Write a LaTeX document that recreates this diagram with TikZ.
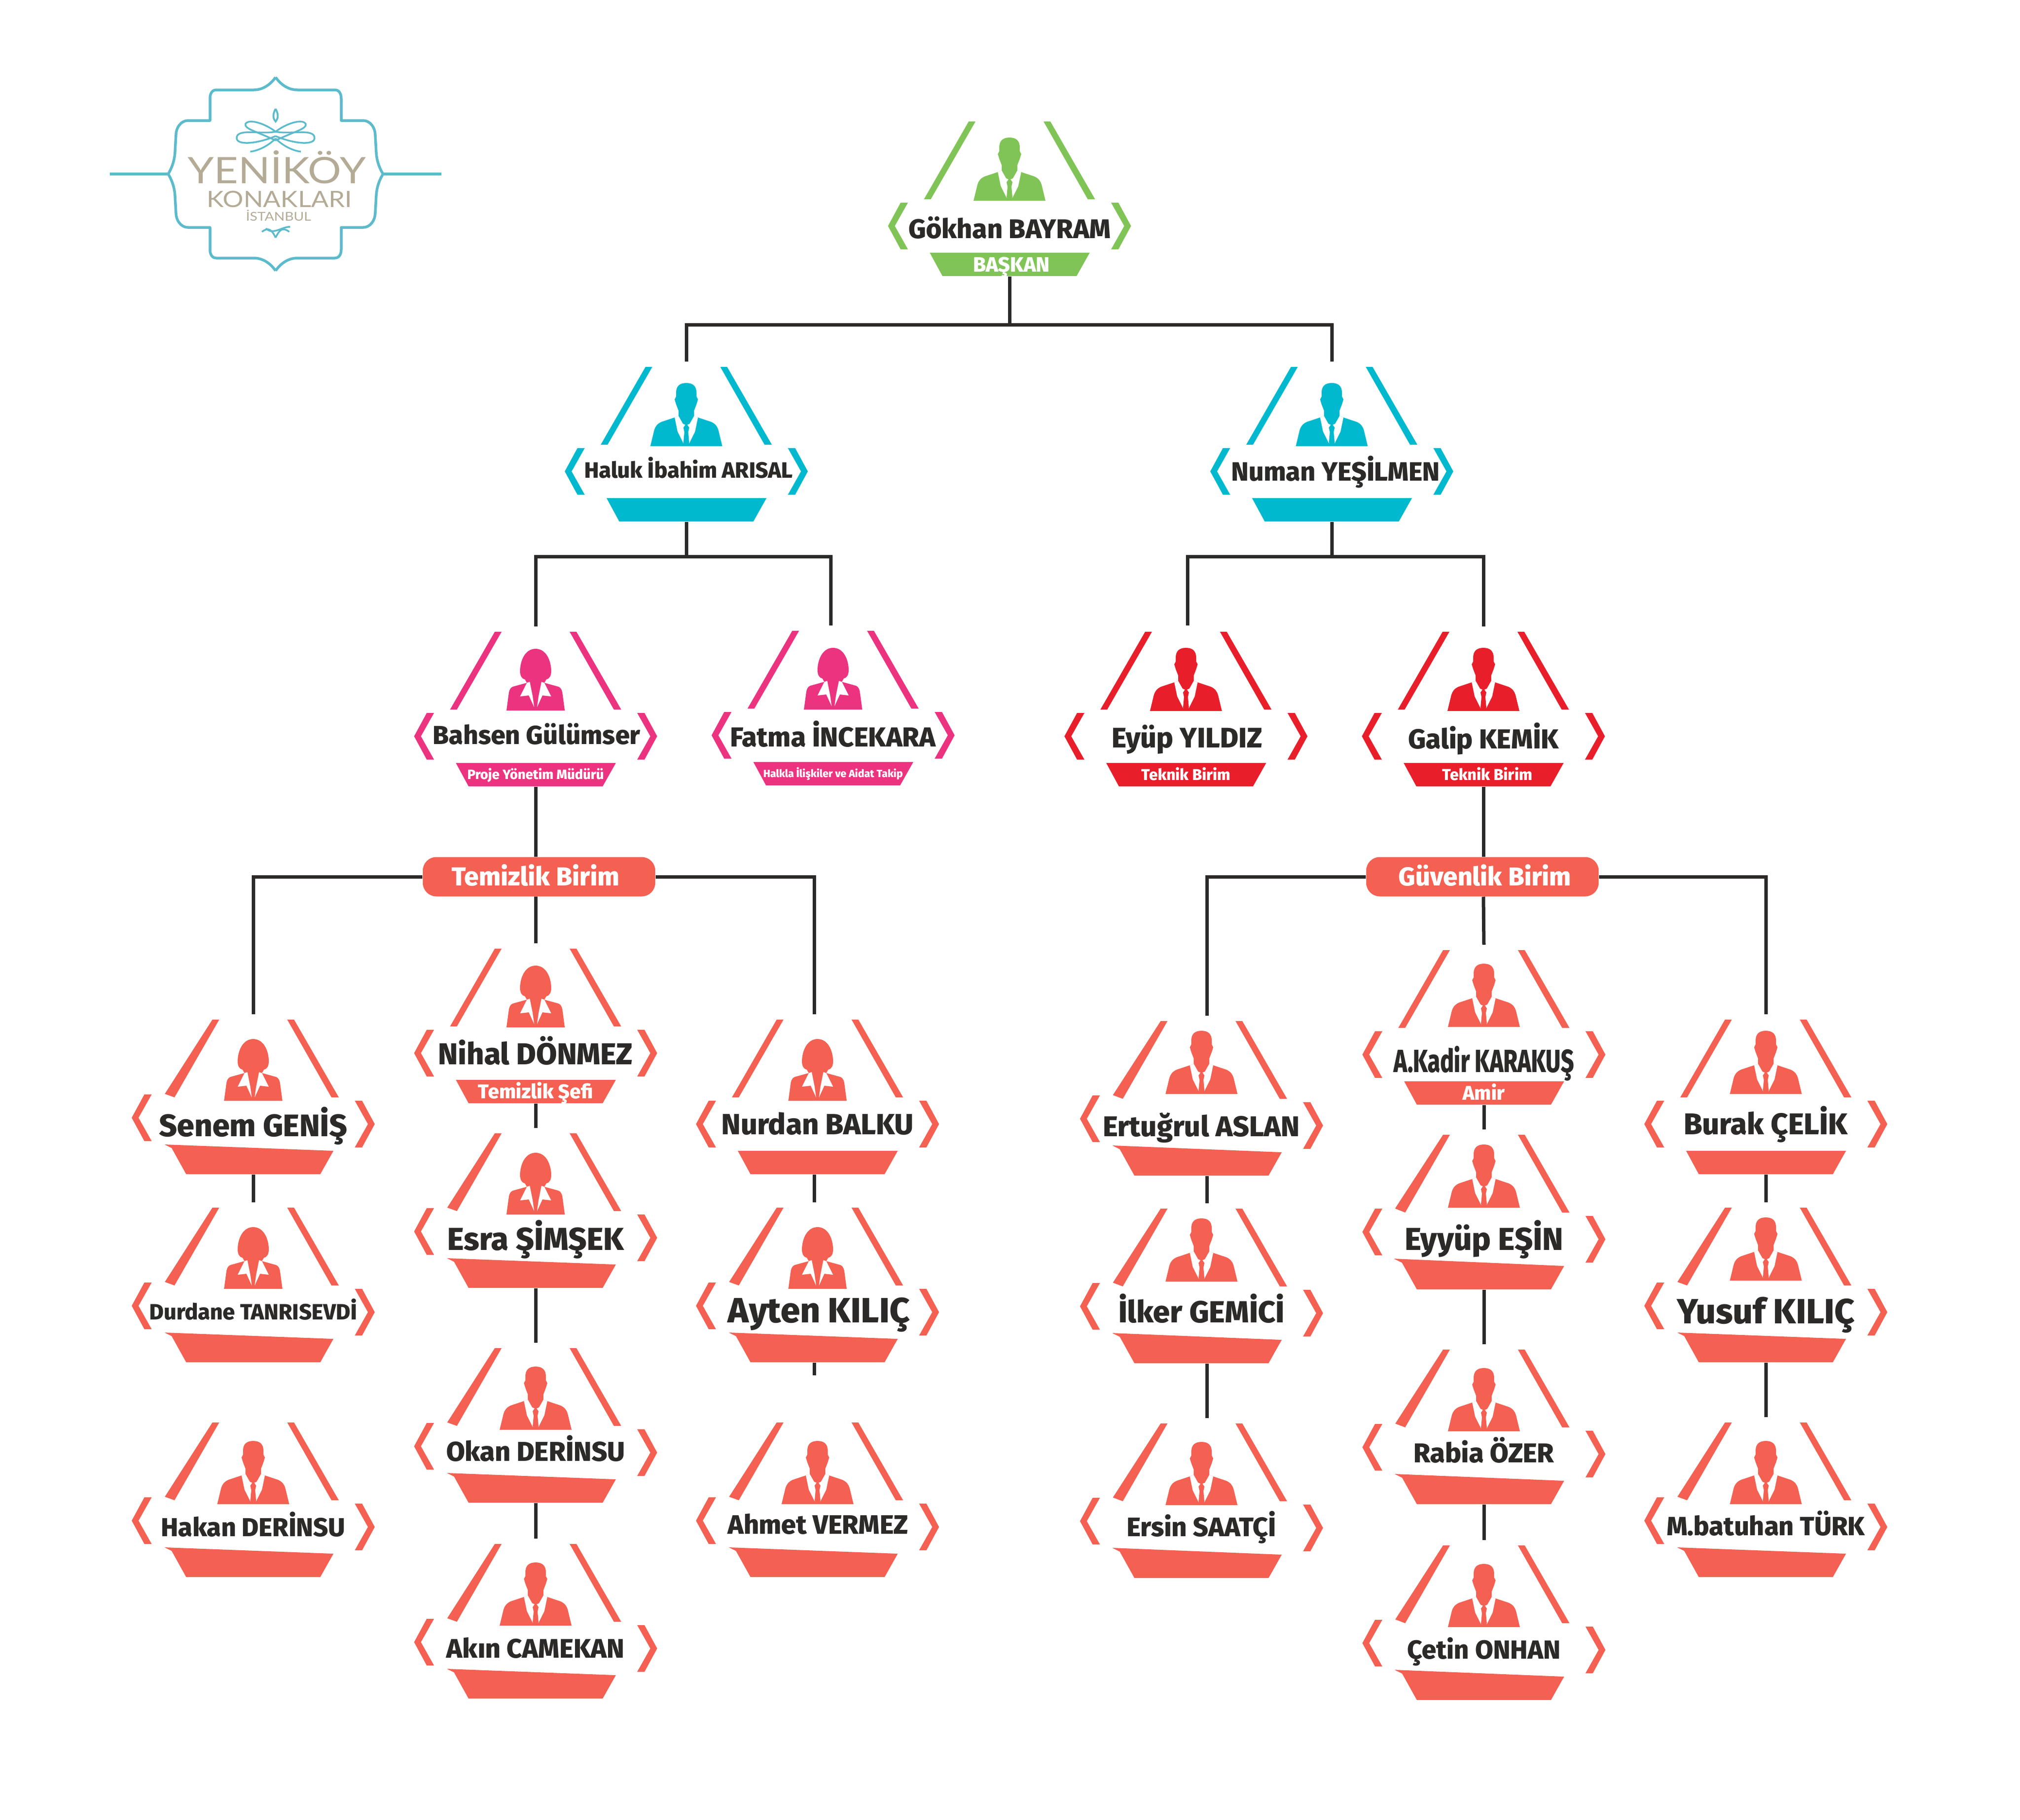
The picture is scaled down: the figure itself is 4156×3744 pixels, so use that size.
\documentclass[tikz,border=0pt]{standalone}
\usepackage{graphicx}
\usepackage{fontspec}
\setmainfont{Fira Sans}[BoldFont={Fira Sans ExtraBold}]
\newfontfamily\logofont{Lato}
\definecolor{cgreen}{HTML}{80C457}
\definecolor{cteal}{HTML}{00B9CE}
\definecolor{cpink}{HTML}{EC3380}
\definecolor{cred}{HTML}{E81F2B}
\definecolor{ccoral}{HTML}{F46052}
\definecolor{cdark}{HTML}{2B2A29}
\definecolor{clogo}{HTML}{5CBBCB}
\definecolor{ctan}{HTML}{B3AB96}
\newlength\unitpx
\setlength\unitpx{0.01cm}
\tikzset{
  namelabel/.style={inner sep=0pt,text=cdark,font=\bfseries},
  sublabel/.style={inner sep=0pt,text=white,font=\bfseries},
  logolabel/.style={inner sep=0pt,text=ctan,font=\logofont},
  link/.style={draw=cdark,line width=0.07cm},
  unitbox/.style={fill=ccoral,rounded corners=0.28cm,minimum width=4.78cm,minimum height=0.81cm,inner sep=0pt,text=white,font=\bfseries},
  bandbox/.style={minimum width=2.76cm,minimum height=0.48cm,inner sep=0pt},
  logoline/.style={draw=clogo,line width=0.055cm,line join=round},
  knotline/.style={draw=clogo,line width=0.035cm}
}
% text of given width, its box centred on the capitals
\newcommand{\fitbox}[2]{\resizebox{#1\unitpx}{!}{\raisebox{-0.35em}[0.35em][0.35em]{#2}}}
\newcommand{\logobox}[2]{\resizebox{#1\unitpx}{!}{\raisebox{-0.31em}[0.3em][0.3em]{\scalebox{1}[0.87]{#2}}}}
\newcommand{\tallname}[1]{\raisebox{-0.14em}{\scalebox{1}[1.4]{#1}}}
\newcommand{\manfig}[1][0]{%
  \begin{scope}[shift={(0,#1)}]
  \fill[cardcol] (0,-187) .. controls (-14,-187) and (-21,-180) .. (-21,-167) -- (-21,-159) -- (-24,-153) -- (-21,-143) -- (-16,-130) -- (-16,-119) -- (-24,-116) -- (-51,-107) .. controls (-60,-103) and (-64,-97) .. (-66,-90) -- (-74,-57) -- (74,-57) -- (66,-90) .. controls (64,-97) and (60,-103) .. (51,-107) -- (24,-116) -- (16,-119) -- (16,-130) -- (21,-143) -- (24,-153) -- (21,-159) -- (21,-167) .. controls (21,-180) and (14,-187) .. (0,-187) -- cycle;
  \fill[white] (-24,-116) -- (-16,-119) -- (-7,-103) -- (0,-100) -- (7,-103) -- (16,-119) -- (24,-116) -- (18,-87) -- (6,-63) -- (-6,-63) -- (-18,-87) -- cycle;
  \fill[cardcol] (0,-104) -- (-6,-95) -- (-4,-86) -- (-6,-64) -- (0,-58) -- (6,-64) -- (4,-86) -- (6,-95) -- cycle;
  \end{scope}
}
\newcommand{\womanfig}[1][0]{%
  \begin{scope}[shift={(0,#1)}]
  \fill[cardcol] (0,-180) .. controls (-22,-180) and (-32,-155) .. (-32,-134) .. controls (-32,-124) and (-28,-118) .. (-22,-117) -- (-18,-110) -- (-47,-102) .. controls (-52,-100) and (-54,-95) .. (-55,-90) -- (-60,-53) -- (60,-53) -- (55,-90) .. controls (54,-95) and (52,-100) .. (47,-102) -- (18,-110) -- (22,-117) .. controls (28,-118) and (32,-124) .. (32,-134) .. controls (32,-155) and (22,-180) .. (0,-180) -- cycle;
  \fill[white] (-18,-110) -- (-32,-82) -- (-14,-84) -- (-3,-60) -- (-6,-82) -- (-12,-112) -- cycle;
  \fill[white] (18,-110) -- (32,-82) -- (14,-84) -- (3,-60) -- (6,-82) -- (12,-112) -- cycle;
  \end{scope}
}
% tilt, id, x, y, colour, figure, name, name width, name shift
\newcommand{\card}[9][0]{%
  \begin{scope}[shift={(#3,#4)}]
    \colorlet{cardcol}{#5}
    \fill[cardcol] (-84,-215) -- (-70,-215) -- (-162,-55) -- ({-176-0.45*#1},{-55-0.55*#1}) -- cycle;
    \fill[cardcol] (84,-215) -- (70,-215) -- (161,-55) -- (176,-55) -- cycle;
    \fill[cardcol] (-250,-#1) -- (-224,{-48-#1}) -- (-209,{-48-#1}) -- (-236,-#1) -- (-209,{48-#1}) -- (-224,{48-#1}) -- cycle;
    \fill[cardcol] (250,0) -- (224,-48) -- (209,-48) -- (236,0) -- (209,48) -- (224,48) -- cycle;
    \fill[cardcol] ({-164-1.4*#1},{55-#1}) -- (165,55) -- (138,103) -- (-138,103) -- ({-164-0.3*#1},{55-0.45*#1}) -- cycle;
    #6
    \node[namelabel] (#2) at (#9) {\fitbox{#8}{#7}};
    \node[bandbox] (#2-band) at (0,79) {};
    \coordinate (#2-top) at (0,-226);
  \end{scope}
}
\newcommand{\subtitle}[4][0]{\node[sublabel,xshift=#1\unitpx] at (#2-band) {\fitbox{#4}{#3}};}
\begin{document}
\begin{tikzpicture}[x=0.01cm,y=-0.01cm]
  \useasboundingbox (0,0) rectangle (4156,3744);

  % logo
  \begin{scope}[shift={(567,358)}]
    \foreach \sx in {1,-1}{
      \foreach \sy in {1,-1}{
        \draw[logoline,xscale=\sx,yscale=\sy] (0,-199) .. controls (10,-185) and (25,-173) .. (45,-173) -- (122,-173) .. controls (131,-173) and (135,-165) .. (135,-155) -- (135,-110) -- (180,-110) .. controls (195,-110) and (205,-95) .. (205,-80) -- (207,-45) .. controls (208,-25) and (215,-10) .. (221,0);
      }
      \draw[logoline,xscale=\sx] (221,0) -- (341,0);
      % knot
      \begin{scope}[xscale=\sx]
        \draw[knotline] (0,-134) .. controls (-6,-123) and (-6,-115) .. (0,-108) .. controls (6,-115) and (6,-123) .. (0,-134);
        \draw[knotline] (0,-87) .. controls (-20,-103) and (-55,-115) .. (-62,-103) .. controls (-65,-93) and (-40,-88) .. (0,-69);
        \draw[knotline] (0,-87) .. controls (-30,-81) and (-82,-95) .. (-80,-73) .. controls (-78,-58) and (-35,-63) .. (0,-78);
        \draw[knotline] (-52,-46) .. controls (-35,-48) and (-15,-58) .. (0,-73);
        \draw[knotline] (-28,119) .. controls (-15,109) and (-8,114) .. (0,131);
      \end{scope}
    }
    \draw[knotline] (-20,112) .. controls (-5,127) and (15,107) .. (30,109);
  \end{scope}
  \node[logolabel] (logoa) at (570,351) {\logobox{366}{YENİKÖY}};
  \node[logolabel] (logob) at (575,410) {\logobox{299}{KONAKLARI}};
  \node[logolabel] (logoc) at (573,446) {\logobox{134}{İSTANBUL}};

  % people
  \card{root}{2077}{465}{cgreen}{\manfig[5]}{Gökhan BAYRAM}{416}{0,6}
  \subtitle[4]{root}{BAŞKAN}{158}
  \card{haluk}{1412}{970}{cteal}{\manfig[5]}{Haluk İbahim ARISAL}{429}{5,-2}
  \card{numan}{2740}{970}{cteal}{\manfig[5]}{Numan YEŞİLMEN}{429}{8,0}
  \card{bahsen}{1102}{1515}{cpink}{\womanfig}{Bahsen Gülümser}{427}{2,-2}
  \subtitle{bahsen}{Proje Yönetim Müdürü}{281}
  \card{fatma}{1714}{1513}{cpink}{\womanfig}{Fatma İNCEKARA}{423}{0,4}
  \subtitle{fatma}{Halkla İlişkiler ve Aidat Takip}{287}
  \card{eyup}{2440}{1515}{cred}{\manfig[5]}{Eyüp YILDIZ}{310}{2,3}
  \subtitle{eyup}{Teknik Birim}{183}
  \card{galip}{3052}{1515}{cred}{\manfig[5]}{Galip KEMİK}{310}{0,6}
  \subtitle[8]{galip}{Teknik Birim}{185}

  \node[unitbox] (temizlik) at (1109,1804) {\fitbox{345}{Temizlik Birim}\kern0.14cm};
  \node[unitbox] (guvenlik) at (3050,1804) {\kern0.1cm\fitbox{355}{Güvenlik Birim}};

  \card[13]{senem}{521}{2313}{ccoral}{\womanfig[5]}{Senem GENİŞ}{387}{0,3}
  \card[13]{durdane}{521}{2700}{ccoral}{\womanfig[5]}{Durdane TANRISEVDİ}{427}{0,0}
  \card[13]{hakan}{521}{3142}{ccoral}{\manfig[10]}{Hakan DERİNSU}{379}{0,1}
  \card{nihal}{1102}{2167}{ccoral}{\womanfig}{Nihal DÖNMEZ}{400}{0,2}
  \subtitle{nihal}{Temizlik Şefi}{236}
  \card[13]{esra}{1102}{2547}{ccoral}{\womanfig[5]}{Esra ŞİMŞEK}{363}{0,3}
  \card[13]{okan}{1102}{2989}{ccoral}{\manfig[10]}{Okan DERİNSU}{368}{0,-2}
  \card[13]{akin}{1102}{3392}{ccoral}{\manfig[10]}{Akın CAMEKAN}{366}{0,0}
  \card{nurdan}{1682}{2313}{ccoral}{\womanfig[5]}{Nurdan BALKU}{395}{0,0}
  \card[13]{ayten}{1682}{2700}{ccoral}{\womanfig[5]}{Ayten KILIÇ}{374}{3,-4}
  \card[13]{ahmet}{1682}{3142}{ccoral}{\manfig[10]}{Ahmet VERMEZ}{371}{1,-5}
  \card[14]{ertugrul}{2472}{2316}{ccoral}{\manfig[-8]}{Ertuğrul ASLAN}{405}{0,2}
  \card[14]{ilker}{2472}{2702}{ccoral}{\manfig[-8]}{İlker GEMİCİ}{342}{0,-2}
  \card[14]{ersin}{2472}{3144}{ccoral}{\manfig[10]}{Ersin SAATÇİ}{307}{0,-2}
  \card{kadir}{3053}{2170}{ccoral}{\manfig}{\tallname{A.Kadir KARAKUŞ}}{371}{0,13}
  \subtitle{kadir}{Amir}{87}
  \card[15]{eyyup}{3053}{2550}{ccoral}{\manfig[-8]}{Eyyüp EŞİN}{326}{0,0}
  \card[14]{rabia}{3053}{2992}{ccoral}{\manfig[10]}{Rabia ÖZER}{289}{0,-2}
  \card[14]{cetin}{3053}{3395}{ccoral}{\manfig[10]}{Çetin ONHAN}{315}{0,0}
  \card{burak}{3633}{2313}{ccoral}{\manfig[-5]}{Burak ÇELİK}{337}{0,0}
  \card[13]{yusuf}{3633}{2700}{ccoral}{\manfig[-8]}{Yusuf KILIÇ}{366}{0,-2}
  \card[13]{batuhan}{3633}{3142}{ccoral}{\manfig[10]}{M.batuhan TÜRK}{408}{0,-2}

  % links
  \coordinate (rootjoin) at (2077,668);
  \coordinate (halukjoin) at (1412,1145);
  \coordinate (numanjoin) at (2740,1145);
  \coordinate (fatmain) at (1709,1287);
  \coordinate (eyupin) at (2443,1287);
  \coordinate (nurdanin) at (1675,2087);
  \coordinate (ertugrulin) at (2483,2090);
  \coordinate (aytenstub) at (1675,2830);

  \draw[link] (root-band.south) -- (rootjoin);
  \foreach \p in {haluk,numan}{\draw[link] (rootjoin) -| (\p-top);}
  \draw[link] (haluk-band.south) -- (halukjoin);
  \draw[link] (numan-band.south) -- (numanjoin);
  \draw[link] (halukjoin) -| (bahsen-top);
  \draw[link] (halukjoin) -| (fatmain);
  \draw[link] (numanjoin) -| (eyupin);
  \draw[link] (numanjoin) -| (galip-top);

  \draw[link] (bahsen-band.south) -- (bahsen-band.south |- temizlik.north);
  \draw[link] (bahsen-band.south |- temizlik.south) -- (nihal-top);
  \draw[link] (temizlik.west) -| (senem-top);
  \draw[link] (temizlik.east) -| (nurdanin);
  \draw[link] (galip-band.south) -- (galip-band.south |- guvenlik.north);
  \draw[link] (galip-band.south |- guvenlik.south) -- (kadir-top);
  \draw[link] (guvenlik.west) -| (ertugrulin);
  \draw[link] (guvenlik.east) -| (burak-top);

  \draw[link] (senem-band.south) -- (durdane-top);
  \draw[link] (nihal-band.south) -- (esra-top);
  \draw[link] (esra-band.south) -- (okan-top);
  \draw[link] (okan-band.south) -- (akin-top);
  \draw[link] (nurdanin |- nurdan-band.south) -- (nurdanin |- ayten-top);
  \draw[link] (aytenstub |- ayten-band.south) -- (aytenstub);
  \draw[link] (ertugrulin |- ertugrul-band.south) -- (ertugrulin |- ilker-top);
  \draw[link] (ertugrulin |- ilker-band.south) -- (ertugrulin |- ersin-top);
  \draw[link] (kadir-band.south) -- (eyyup-top);
  \draw[link] (eyyup-band.south) -- (rabia-top);
  \draw[link] (rabia-band.south) -- (cetin-top);
  \draw[link] (burak-band.south) -- (yusuf-top);
  \draw[link] (yusuf-band.south) -- (batuhan-top);
\end{tikzpicture}
\end{document}
